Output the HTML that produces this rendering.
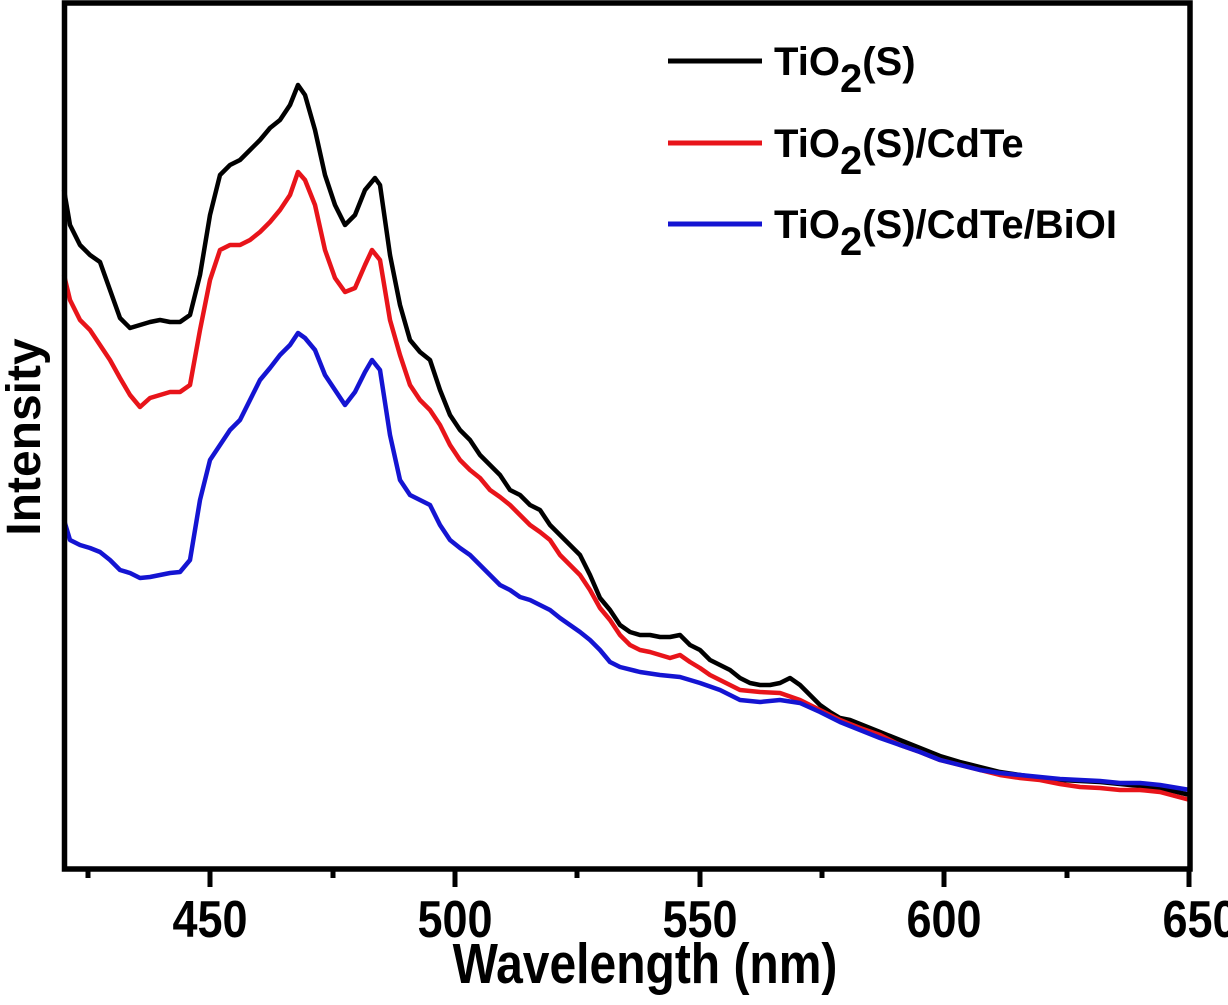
<!DOCTYPE html>
<html><head><meta charset="utf-8"><style>body{margin:0;background:#fff}</style></head><body>
<svg width="1228" height="1000" xmlns="http://www.w3.org/2000/svg" font-family="Liberation Sans, Arial, sans-serif" font-weight="bold">
<rect width="1228" height="1000" fill="#fff"/>
<g fill="none" stroke-width="4.5" stroke-linejoin="round">
<polyline stroke="#000" points="64,190 70,225 80,245 90,255 100,262 110,290 120,318 130,328 140,325 150,322 160,320 170,322 180,322 190,315 200,275 210,215 220,175 230,165 240,160 250,150 260,140 270,128 280,120 290,105 298,85 305,95 315,130 325,175 335,205 345,225 355,215 365,190 375,178 380,185 390,255 400,305 410,340 420,352 430,360 440,390 450,415 460,430 470,440 480,455 490,465 500,475 510,490 520,495 530,505 540,510 550,525 560,535 570,545 580,555 590,575 600,598 610,610 620,625 630,632 640,635 650,635 660,637 670,637 680,635 690,645 700,650 710,660 720,665 730,670 740,678 750,683 760,685 770,685 780,683 790,678 800,685 810,695 820,705 830,712 840,718 850,720 860,724 870,728 880,732 900,740 920,748 940,756 960,762 980,767 1000,772 1020,775 1040,778 1060,780 1080,781 1100,782 1120,784 1140,786 1160,788 1190,795"/>
<polyline stroke="#e8141a" points="64,275 70,300 80,320 90,330 100,345 110,360 120,378 130,395 140,407 150,398 160,395 170,392 180,392 190,385 200,330 210,280 220,250 230,245 240,245 250,240 260,232 270,222 280,210 290,195 298,172 305,180 315,205 325,250 335,278 345,292 355,288 365,265 372,250 380,260 390,320 400,355 410,385 420,400 430,410 440,425 450,445 460,460 470,470 480,478 490,490 500,497 510,505 520,515 530,525 540,532 550,540 560,555 570,565 580,575 590,590 600,608 610,620 620,635 630,645 640,650 650,652 660,655 670,658 680,655 690,662 700,668 710,675 720,680 730,685 740,690 760,692 780,693 800,700 820,710 840,720 860,728 880,735 900,745 920,752 940,760 960,765 980,770 1000,775 1020,778 1040,780 1060,784 1080,787 1100,788 1120,790 1140,790 1160,792 1190,800"/>
<polyline stroke="#1414d2" points="64,520 70,540 80,545 90,548 100,552 110,560 120,570 130,573 140,578 150,577 160,575 170,573 180,572 190,560 200,500 210,460 220,445 230,430 240,420 250,400 260,380 270,368 280,355 290,345 298,333 305,338 315,350 325,375 335,390 345,405 355,392 365,372 372,360 380,370 390,435 400,480 410,495 420,500 430,505 440,525 450,540 460,548 470,555 480,565 490,575 500,585 510,590 520,597 530,600 540,605 550,610 560,618 570,625 580,632 590,640 600,650 610,662 620,667 640,672 660,675 680,677 700,683 720,690 740,700 760,702 780,700 800,703 820,712 840,722 860,730 880,738 900,745 920,752 940,760 960,765 980,770 1000,773 1020,775 1040,777 1060,779 1080,780 1100,781 1120,783 1140,783 1160,785 1190,790"/>
</g>
<rect x="64.5" y="3" width="1125.5" height="866" fill="none" stroke="#000" stroke-width="5.5"/>
<g stroke="#000" stroke-width="5">
<line x1="210" y1="869" x2="210" y2="887"/><line x1="455" y1="869" x2="455" y2="887"/><line x1="700" y1="869" x2="700" y2="887"/><line x1="944" y1="869" x2="944" y2="887"/><line x1="1189" y1="869" x2="1189" y2="887"/>
<line x1="88" y1="869" x2="88" y2="878"/><line x1="333" y1="869" x2="333" y2="878"/><line x1="577" y1="869" x2="577" y2="878"/><line x1="822" y1="869" x2="822" y2="878"/><line x1="1067" y1="869" x2="1067" y2="878"/>
</g>
<g font-size="45" text-anchor="middle">
<text transform="translate(210,937) scale(1,1.15)">450</text>
<text transform="translate(455,937) scale(1,1.15)">500</text>
<text transform="translate(700,937) scale(1,1.15)">550</text>
<text transform="translate(944,937) scale(1,1.15)">600</text>
<text transform="translate(1200,937) scale(1,1.15)">650</text>
</g>
<text transform="translate(645,983) scale(1,1.18)" font-size="48" text-anchor="middle">Wavelength (nm)</text>
<text transform="translate(40,437) rotate(-90)" font-size="48" text-anchor="middle">Intensity</text>
<g stroke-width="5">
<line x1="668" y1="61" x2="762" y2="61" stroke="#000"/>
<line x1="668" y1="143" x2="762" y2="143" stroke="#e8141a"/>
<line x1="668" y1="224" x2="762" y2="224" stroke="#1414d2"/>
</g>
<g font-size="40">
<text x="774" y="75">TiO<tspan dy="17">2</tspan><tspan dy="-17">(S)</tspan></text>
<text x="774" y="157">TiO<tspan dy="17">2</tspan><tspan dy="-17">(S)/CdTe</tspan></text>
<text x="774" y="238">TiO<tspan dy="17">2</tspan><tspan dy="-17">(S)/CdTe/BiOI</tspan></text>
</g>
</svg>
</body></html>
